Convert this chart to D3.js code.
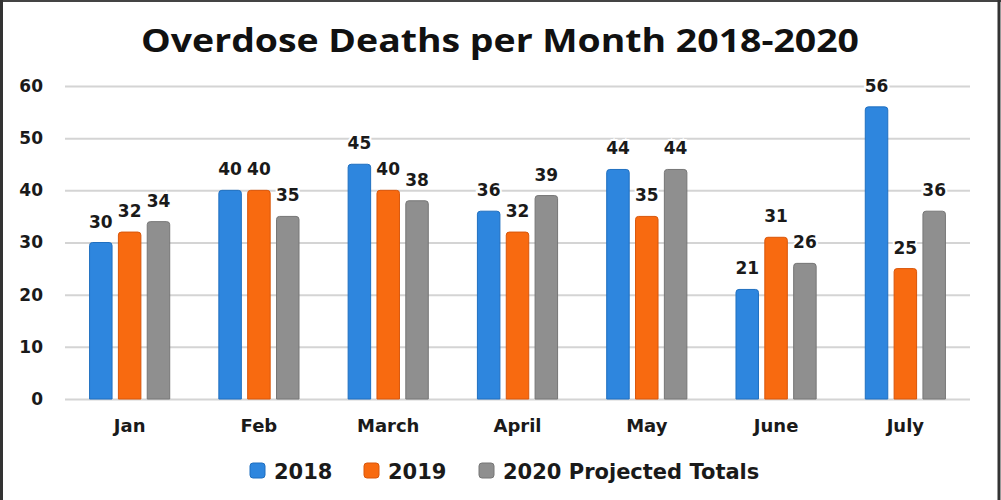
<!DOCTYPE html>
<html>
<head>
<meta charset="utf-8">
<title>Overdose Deaths per Month 2018-2020</title>
<style>
  body { margin: 0; background: #fff; }
  svg { display: block; }
  .tick-label, .bar-label, .month-label, .legend-label { font-family: "DejaVu Sans", sans-serif; font-weight: bold; fill: #1a1a1a; }
</style>
</head>
<body>
<svg id="chart" width="1001" height="500"></svg>
<script src="https://d3js.org/d3.v7.min.js"></script>
<script>
    // chart data
    var months = ['Jan', 'Feb', 'March', 'April', 'May', 'June', 'July'];
    var seriesNames = ['2018', '2019', '2020 Projected Totals'];
    var deaths2018 = [30, 40, 45, 36, 44, 21, 56];
    var deaths2019 = [32, 40, 40, 32, 35, 31, 25];
    var deaths2020 = [34, 35, 38, 39, 44, 26, 36];
    var yTicks = [0, 10, 20, 30, 40, 50, 60];
    var colors = ['#2e86de', '#f86a10', '#8f8f8f'];
    var strokes = ['#1f6fc0', '#d9560a', '#767676'];

    var values = [deaths2018, deaths2019, deaths2020];

    var svg = d3.select('#chart');
    var W = 1001, H = 500;

    // frame lines (top, left, right)
    svg.append('rect').attr('x', 0).attr('y', 0).attr('width', W).attr('height', H).attr('fill', '#fff');
    svg.append('line').attr('x1', 0).attr('x2', W).attr('y1', 1).attr('y2', 1).attr('stroke', '#444').attr('stroke-width', 2);
    svg.append('line').attr('x1', 1.5).attr('x2', 1.5).attr('y1', 0).attr('y2', H).attr('stroke', '#333').attr('stroke-width', 3);
    svg.append('line').attr('x1', 999).attr('x2', 999).attr('y1', 0).attr('y2', H).attr('stroke', '#333').attr('stroke-width', 3);

    var plot = { left: 65, right: 970, top: 86, bottom: 399 };

    var x0 = d3.scaleBand().domain(months).range([plot.left, plot.right]).paddingInner(0.38).paddingOuter(0.19);
    var x1 = d3.scaleBand().domain(seriesNames).range([0, x0.bandwidth()]).paddingInner(0.22);
    var y = d3.scaleLinear().domain([0, 60]).range([plot.bottom, plot.top]);

    // title
    svg.append('text')
        .attr('x', 500).attr('y', 52)
        .attr('text-anchor', 'middle')
        .attr('textLength', 718).attr('lengthAdjust', 'spacingAndGlyphs')
        .style('font-family', '"Open Sans", sans-serif')
        .style('font-weight', 'bold')
        .style('font-size', '33px')
        .style('fill', '#111')
        .text('Overdose Deaths per Month 2018-2020');

    // gridlines + y labels
    var yAxis = d3.axisLeft(y).tickValues(yTicks).tickSize(-(plot.right - plot.left)).tickPadding(22);
    var gy = svg.append('g').attr('transform', 'translate(' + plot.left + ',0)').call(yAxis);
    gy.select('.domain').remove();
    gy.selectAll('.tick line').attr('stroke', '#d4d4d4').attr('stroke-width', 2);
    gy.selectAll('.tick text').attr('class', 'tick-label').style('font-size', '17px').attr('fill', null);

    // month labels
    var xAxis = d3.axisBottom(x0).tickSize(0).tickPadding(20);
    var gx = svg.append('g').attr('transform', 'translate(0,' + plot.bottom + ')').call(xAxis);
    gx.select('.domain').remove();
    gx.selectAll('.tick text').attr('class', 'month-label').style('font-size', '18px').attr('fill', null);

    // bars
    var groups = svg.append('g').selectAll('g')
        .data(months)
        .join('g')
        .attr('transform', function (d) { return 'translate(' + x0(d) + ',0)'; });

    function barPath(x, y0, w, h, r) {
        return 'M' + x + ',' + (y0 + h) +
            'V' + (y0 + r) +
            'Q' + x + ',' + y0 + ' ' + (x + r) + ',' + y0 +
            'H' + (x + w - r) +
            'Q' + (x + w) + ',' + y0 + ' ' + (x + w) + ',' + (y0 + r) +
            'V' + (y0 + h) + 'Z';
    }

    groups.selectAll('path')
        .data(function (d, i) {
            return seriesNames.map(function (s, j) { return { s: s, j: j, v: values[j][i] }; });
        })
        .join('path')
        .attr('d', function (d) {
            return barPath(x1(d.s), y(d.v), x1.bandwidth(), y(0) - y(d.v), 3);
        })
        .attr('fill', function (d) { return colors[d.j]; })
        .attr('stroke', function (d) { return strokes[d.j]; })
        .attr('stroke-width', 1);

    // value labels with white halo over the grid
    groups.selectAll('text')
        .data(function (d, i) {
            return seriesNames.map(function (s, j) { return { s: s, j: j, v: values[j][i] }; });
        })
        .join('text')
        .attr('class', 'bar-label')
        .attr('x', function (d) { return x1(d.s) + x1.bandwidth() / 2; })
        .attr('y', function (d) { return y(d.v) - 15; })
        .attr('text-anchor', 'middle')
        .style('font-size', '17px')
        .style('paint-order', 'stroke')
        .style('stroke', '#fff')
        .style('stroke-width', '4px')
        .text(function (d) { return d.v; });

    // legend
    var legendX = [250, 364, 479];
    var legend = svg.append('g').selectAll('g')
        .data(seriesNames)
        .join('g')
        .attr('transform', function (d, i) { return 'translate(' + legendX[i] + ',463)'; });
    legend.append('rect')
        .attr('width', 15).attr('height', 15).attr('rx', 3)
        .attr('fill', function (d, i) { return colors[i]; })
        .attr('stroke', function (d, i) { return strokes[i]; });
    legend.append('text')
        .attr('class', 'legend-label')
        .attr('x', 24).attr('y', 16)
        .style('font-size', '21px')
        .text(function (d) { return d; });
</script>
</body>
</html>
